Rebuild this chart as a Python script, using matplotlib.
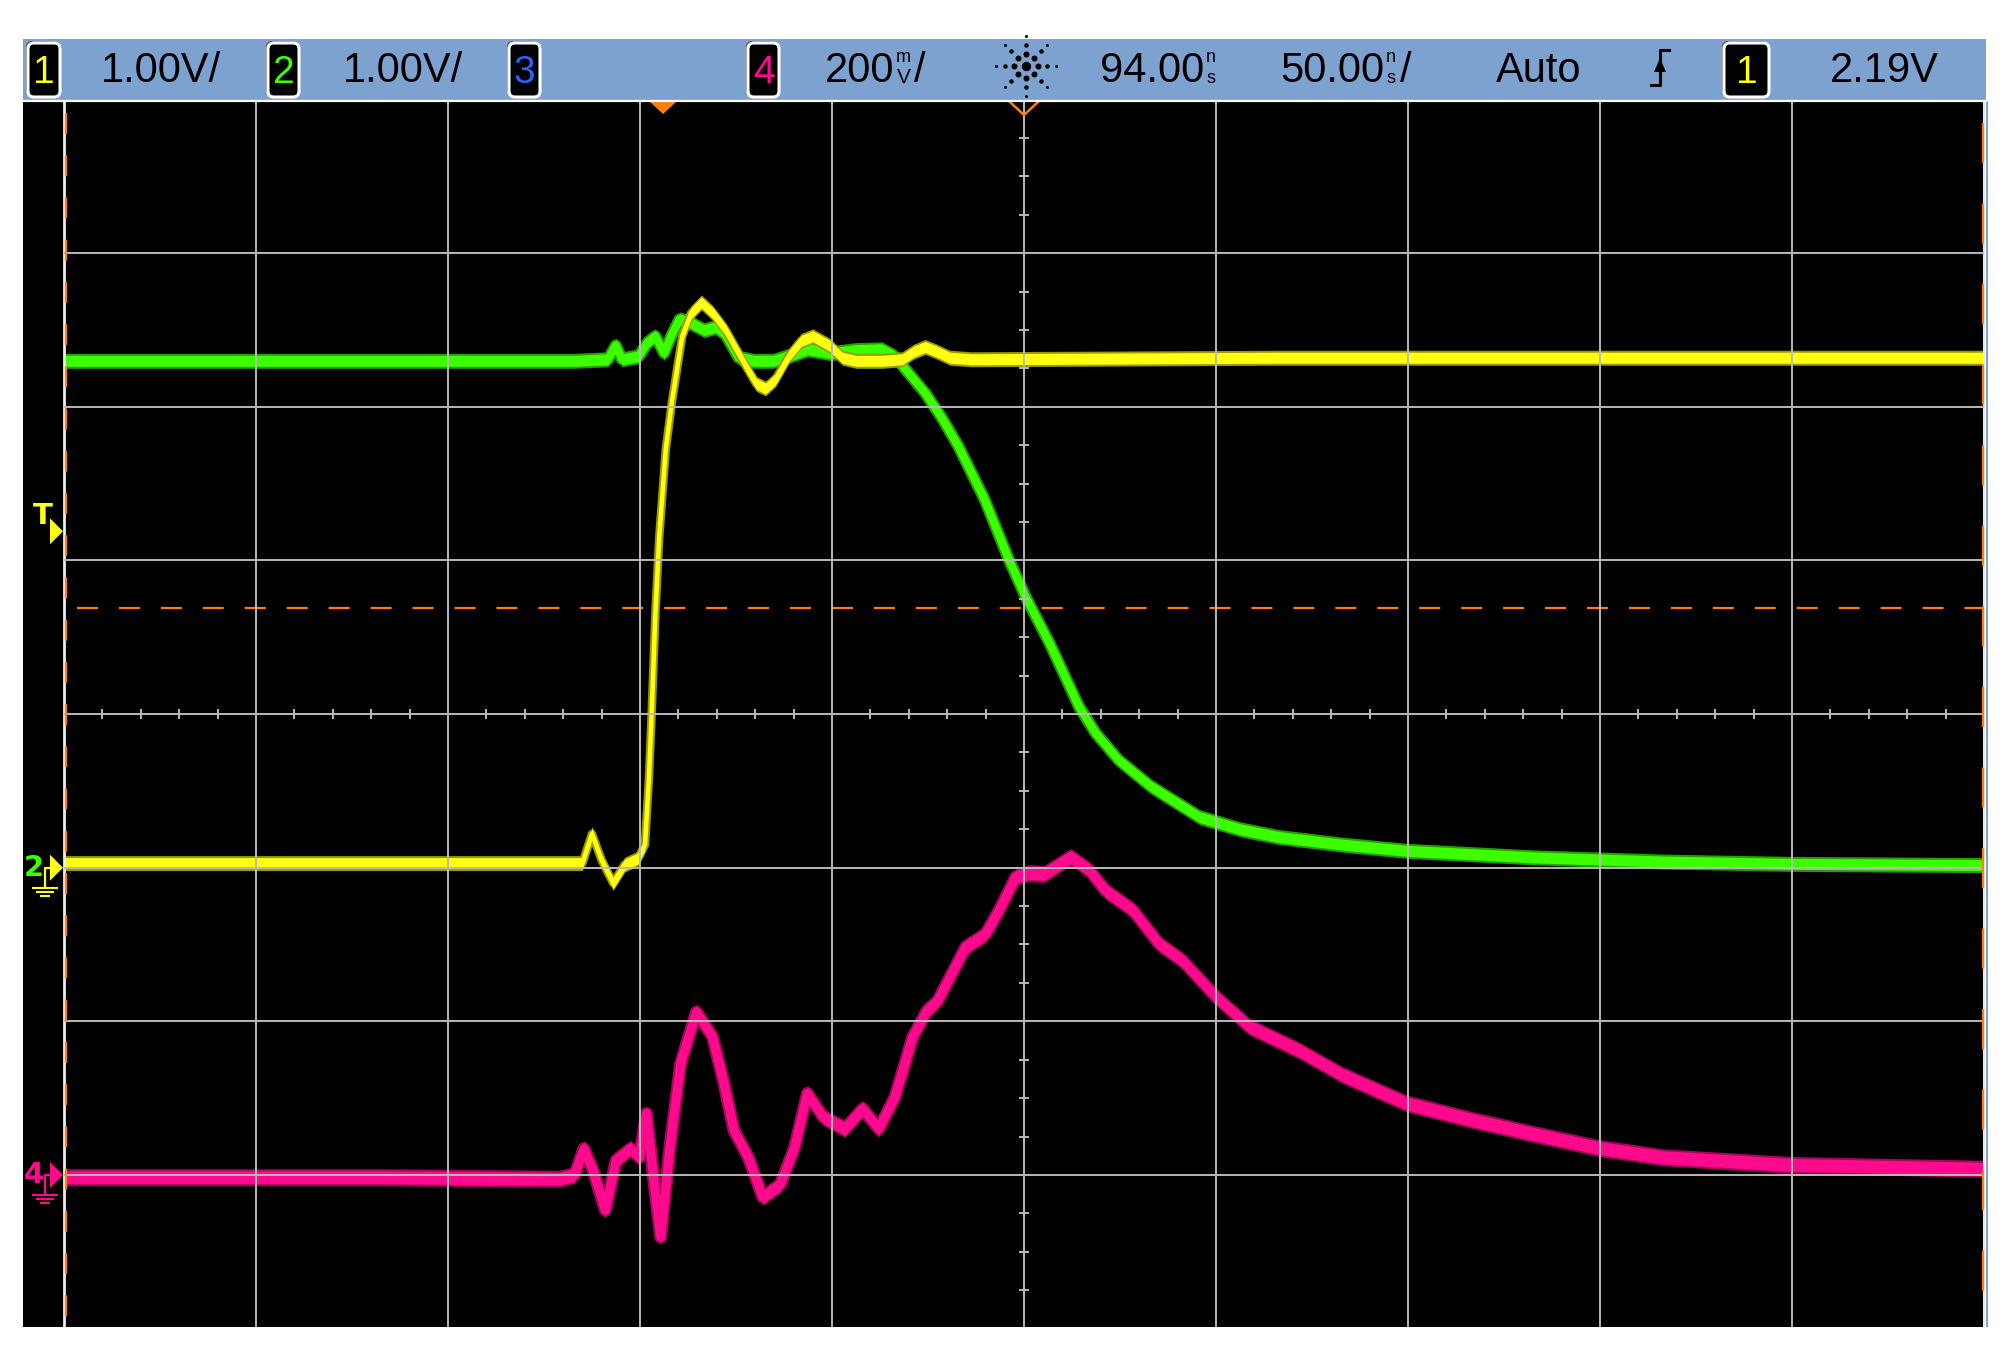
import numpy as np
import matplotlib.pyplot as plt
from matplotlib.patches import Rectangle, FancyBboxPatch, Polygon

plt.rcParams['lines.scale_dashes'] = False

# Scope settings (from the header)
time_per_div = 50.0      # ns/div
delay_ns = 94.0          # time at screen centre, trigger at t = 0
ch1_scale = 1.00         # V/div
ch2_scale = 1.00
ch4_scale = 0.20
ch12_ground_div = -1.0   # ground marker position, divisions from centre
ch4_ground_div = -3.0
trigger_level = 2.19     # V, channel 1
cursor_level = 1.69      # orange dashed level, V on channel 1 scale

# Channel 1 (yellow), time in ns, volts
ch1_t = [-156, -73, -21, -18.5, -16, -13, -10, -6.5, -4.7, -3.7, -3, -2, -1, 0.7,
         2.3, 5, 7.3, 10, 13, 16.3, 19, 21.7, 24.3, 26.7, 29.3, 32.7, 36, 39, 43.3,
         46.7, 50.3, 57, 62.3, 65.3, 68.3, 71.3, 74.7, 80.3, 160, 344]
ch1_v = [0.03, 0.03, 0.03, 0.22, 0.05, -0.10, 0.02, 0.06, 0.15, 0.57, 0.98, 1.65,
         2.15, 2.72, 3.03, 3.46, 3.61, 3.68, 3.61, 3.50, 3.38, 3.26, 3.15, 3.12,
         3.18, 3.33, 3.43, 3.46, 3.40, 3.32, 3.30, 3.30, 3.31, 3.36, 3.39, 3.36,
         3.32, 3.31, 3.32, 3.32]

# Channel 2 (green)
ch2_t = [-156, -73, -23, -14.3, -12.3, -10.7, -6.3, -4, -2, 0.3, 2.3, 4.3, 7, 10.7,
         13.7, 16.3, 19.7, 23.7, 28.7, 33.7, 37.7, 43.7, 50.3, 57, 60.3, 62.3, 65.3,
         68.3, 72.7, 77, 83.7, 90, 94.3, 100.7, 108.3, 112.7, 118.7, 127, 139.7,
         150.3, 160.3, 177, 193.7, 227, 260.3, 293.7, 344]
ch2_v = [3.30, 3.30, 3.30, 3.31, 3.40, 3.31, 3.33, 3.42, 3.46, 3.35, 3.47, 3.57,
         3.55, 3.50, 3.52, 3.47, 3.32, 3.30, 3.30, 3.34, 3.375, 3.35, 3.37, 3.375,
         3.33, 3.27, 3.18, 3.09, 2.925, 2.74, 2.40, 2.01, 1.77, 1.46, 1.05, 0.875,
         0.70, 0.53, 0.33, 0.25, 0.20, 0.15, 0.11, 0.067, 0.04, 0.025, 0.017]

# Channel 4 (pink)
ch4_t = [-156, -73, -27.1, -23, -20.6, -18.2, -15, -12.2, -8.5, -6.1, -4.3, -2.4,
         -0.6, 1.8, 4.6, 8.7, 12.9, 15.7, 18.5, 22.2, 26, 30.6, 34.3, 37.6, 41.8,
         47.4, 52, 56.2, 60.4, 65, 68.8, 71.6, 74.3, 78.9, 84.1, 87.6, 91.9, 95.3,
         99.3, 106.2, 111, 115.3, 122.3, 129.2, 135.3, 144, 152.7, 165.7, 177, 193.7,
         210.3, 227, 243.7, 260.3, 293.7, 344]
ch4_v = [-0.003, -0.003, -0.005, 0.0, 0.034, 0.006, -0.046, 0.019, 0.034, 0.023,
         0.080, -0.007, -0.081, 0.036, 0.145, 0.212, 0.180, 0.123, 0.058, 0.023,
         -0.029, -0.012, 0.036, 0.106, 0.075, 0.060, 0.086, 0.060, 0.101, 0.179,
         0.214, 0.227, 0.253, 0.297, 0.314, 0.345, 0.388, 0.393, 0.392, 0.414,
         0.397, 0.370, 0.345, 0.301, 0.279, 0.232, 0.193, 0.162, 0.130, 0.093,
         0.072, 0.053, 0.035, 0.023, 0.013, 0.008]

# Header labels
ch1_label = '1.00V/'
ch2_label = '1.00V/'
ch4_label = '200'
delay_label = '94.00'
timebase_label = '50.00'
mode_label = 'Auto'
trig_label = '2.19V'

# Colours
YELLOW, YELLOW_DK = '#ffff14', '#9a9a00'
GREEN, GREEN_DK = '#3cff00', '#22a000'
PINK, PINK_DK = '#ff0a8c', '#a0085a'
BLUE = '#2a64ff'
ORANGE = '#ff8000'
GRID = '#b9b9b9'
HEADER = '#7ea2d0'
HDR_FONT = 'Liberation Sans'

# Screen geometry in output pixels
W, H = 2006, 1355
SCR_L, SCR_R, SCR_T, SCR_B = 23, 1985, 101, 1327
GRID_L, DIV_X = 64.0, 192.0
GRID_T, DIV_Y = 99.7, 153.6

t_left = delay_ns - 5 * time_per_div


def t_at(px):
    return t_left + (px - GRID_L) / DIV_X * time_per_div


def div_at(py):
    return 4 - (py - GRID_T) / DIV_Y


px_ns = time_per_div / DIV_X
xlim = (t_at(SCR_L), t_at(SCR_R))
ylim_div = (div_at(SCR_B), div_at(SCR_T))


def volt_lim(scale, ground):
    return tuple((d - ground) * scale for d in ylim_div)


fig = plt.figure(figsize=(W / 100, H / 100), dpi=100, facecolor='white')
ax = fig.add_axes([SCR_L / W, 1 - SCR_B / H, (SCR_R - SCR_L) / W, (SCR_B - SCR_T) / H])
ax.set_facecolor('black')
ax4 = ax.twinx()
ax12 = ax.twinx()
axg = ax.twinx()
for a in (ax, ax4, ax12, axg):
    a.tick_params(left=False, right=False, bottom=False, labelleft=False,
                  labelright=False, labelbottom=False)
    for s in a.spines.values():
        s.set_visible(False)


def draw_trace(axis, t, v, color, edge, band_px, line_px, pv, z):
    # vertical band for the noise on flat parts, thick line for the steep parts
    t = np.asarray(t, dtype=float)
    v = np.asarray(v, dtype=float)
    axis.fill_between(t, v - (band_px + 2) * pv, v + (band_px + 2) * pv, color=edge,
                      lw=0, zorder=z)
    axis.plot(t, v, color=edge, lw=(line_px + 4) * 0.72, solid_joinstyle='round',
              solid_capstyle='butt', zorder=z + 0.1)
    axis.fill_between(t, v - band_px * pv, v + band_px * pv, color=color, lw=0, zorder=z + 0.2)
    axis.plot(t, v, color=color, lw=line_px * 0.72, solid_joinstyle='round',
              solid_capstyle='butt', zorder=z + 0.3)


pv1 = ch1_scale / DIV_Y
pv4 = ch4_scale / DIV_Y
draw_trace(ax4, ch4_t, ch4_v, PINK, PINK_DK, 6.5, 9, pv4, 2)
draw_trace(ax12, ch2_t, ch2_v, GREEN, GREEN_DK, 5.5, 8, pv1, 2)
draw_trace(ax12, ch1_t, ch1_v, YELLOW, YELLOW_DK, 5.5, 4.5, pv1, 3)

# Graticule (drawn over the traces)
t_lines = t_left + time_per_div * np.arange(11)
axg.vlines(t_lines[1:-1], ylim_div[0], ylim_div[1], color=GRID, lw=1.4)
axg.vlines([t_lines[0]], ylim_div[0], ylim_div[1], color='#ececec', lw=2.0)
axg.vlines([t_lines[-1]], ylim_div[0], ylim_div[1], color='#ececec', lw=1.4)
axg.hlines(np.arange(-3, 4), t_lines[0], t_lines[-1], color=GRID, lw=1.4)
minor_div = [d for d in np.arange(-4, 4.001, 0.25) if abs(d - round(d)) > 1e-6]
axg.hlines(minor_div, delay_ns - 5 * px_ns, delay_ns + 5 * px_ns, color=GRID, lw=1.4)
minor_t = [t for t in t_left + 10 * np.arange(51) if abs((t - t_left) % 50) > 1e-6]
axg.vlines(minor_t, -5 / DIV_Y, 5 / DIV_Y, color=GRID, lw=1.4)

# Orange edge dashes and the dashed level line
axg.plot([t_at(66), t_at(66)], [div_at(113), ylim_div[0]], color=ORANGE, lw=1.6,
         linestyle=(0, (15.1, 15.3)))
axg.plot([t_at(1983), t_at(1983)], [div_at(123), ylim_div[0]], color=ORANGE, lw=1.6,
         linestyle=(0, (28.8, 29.2)))
ax12.plot([t_at(77), t_lines[-1]], [cursor_level, cursor_level], color=ORANGE, lw=1.6,
          linestyle=(0, (15.1, 15.1)), zorder=5)

# Trigger position and delay markers at the top
hw = 14 * px_ns
axg.add_patch(Polygon([(-hw, div_at(101)), (hw, div_at(101)), (0, div_at(114))],
                      closed=True, color=ORANGE, lw=0))
axg.plot([delay_ns - hw, delay_ns, delay_ns + hw], [div_at(102), div_at(115), div_at(102)],
         color=ORANGE, lw=1.8)


def arrow_marker(axis, level, pv, color):
    axis.add_patch(Polygon([(t_at(50), level + 13 * pv), (t_at(50), level - 13 * pv),
                            (t_at(63), level)], closed=True, color=color, lw=0, zorder=6))


def ground_marker(axis, pv, color, label, label_color):
    axis.text(t_at(34), 0, label, color=label_color, fontsize=21, fontweight='bold',
              ha='center', va='center', family='DejaVu Sans', zorder=6)
    axis.plot([t_at(45), t_at(45), t_at(51)], [-19 * pv, 0, 0], color=color, lw=1.6, zorder=6)
    for dy, half in ((20, 12), (24, 8), (28, 4)):
        axis.plot([t_at(45 - half), t_at(45 + half)], [-dy * pv, -dy * pv], color=color,
                  lw=1.5, zorder=6)
    arrow_marker(axis, 0, pv, color)


# Left side markers
ax12.text(t_at(43), trigger_level + 15 * pv1, 'T', color=YELLOW, fontsize=21,
          fontweight='bold', ha='center', va='center', family='DejaVu Sans', zorder=6)
arrow_marker(ax12, trigger_level, pv1, YELLOW)
ground_marker(ax12, pv1, YELLOW, '2', GREEN)
ground_marker(ax4, pv4, PINK, '4', PINK)

ax.set_xlim(xlim)
ax.set_ylim(ylim_div)
axg.set_ylim(ylim_div)
ax12.set_ylim(volt_lim(ch1_scale, ch12_ground_div))
ax4.set_ylim(volt_lim(ch4_scale, ch4_ground_div))

# Header bar, drawn in pixel coordinates
hdr = fig.add_axes([0, 0, 1, 1])
hdr.set_xlim(0, W)
hdr.set_ylim(H, 0)
hdr.axis('off')
hdr.patch.set_visible(False)
hdr.add_patch(Rectangle((SCR_L, 39), 1986 - SCR_L, 62, color=HEADER, lw=0))
hdr.plot([SCR_L, 1986], [101, 101], color='white', lw=1.6)
hdr.add_patch(Rectangle((1986, 101), 2, SCR_B - 101, color=HEADER, lw=0))


def badge(x0, x1, digit, color, y0=43, y1=97):
    hdr.add_patch(FancyBboxPatch((x0 - 2, y0 - 2), x1 - x0, y1 - y0,
                                 boxstyle='round,pad=0,rounding_size=6', color='#5a5838', lw=0))
    hdr.add_patch(FancyBboxPatch((x0, y0), x1 - x0, y1 - y0,
                                 boxstyle='round,pad=0,rounding_size=6', fc='black',
                                 ec='white', lw=2.2))
    hdr.text((x0 + x1) / 2, y1 - 14, digit, color=color, fontsize=28,
             ha='center', va='baseline', family=HDR_FONT)


def htext(x, s, size=30, y=82):
    hdr.text(x, y, s, fontsize=size, ha='left', va='baseline', family=HDR_FONT, color='black')


badge(28, 60, '1', YELLOW)
htext(101, ch1_label)
badge(268, 299, '2', GREEN)
htext(343, ch2_label)
badge(509, 540, '3', BLUE)
badge(748, 779, '4', PINK)
htext(825, ch4_label)
htext(896, 'm', size=13, y=62)
htext(897, 'V', size=15, y=83)
htext(914, '/')

# Delay icon: dots on eight rays
cx, cy = 1026, 66
hdr.scatter([cx], [cy], s=(8 * 0.72) ** 2, color='black', zorder=3)
for ang in np.arange(0, 360, 45):
    ca, sa = np.cos(np.radians(ang)), np.sin(np.radians(ang))
    for r, d in ((12, 6), (21, 4.5), (30, 3)):
        hdr.scatter([cx + r * ca], [cy + r * sa], s=(d * 0.72) ** 2, color='black', lw=0, zorder=3)

htext(1100, delay_label)
htext(1206, 'n', size=13, y=62)
htext(1207, 's', size=13, y=83)
htext(1280, timebase_label)
htext(1386, 'n', size=13, y=62)
htext(1387, 's', size=13, y=83)
htext(1400, '/')
htext(1496, mode_label)

# Rising edge trigger symbol
hdr.plot([1651, 1660, 1660, 1669], [85, 85, 50, 50], color='black', lw=2.2)
hdr.add_patch(Polygon([(1654, 72), (1666, 72), (1660, 58)], closed=True, color='black', lw=0))

badge(1724, 1769, '1', YELLOW)
htext(1830, trig_label)

fig.savefig('out.png', dpi=100, facecolor='white')
